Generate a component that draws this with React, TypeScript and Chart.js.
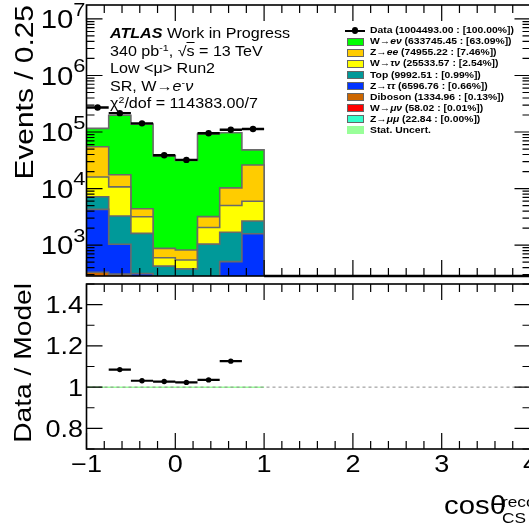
import React, { useEffect, useRef } from "react";
import { Chart, registerables } from "chart.js";
Chart.register(...registerables);

// ---------------- data ----------------
const binEdges = [-1, -0.75, -0.5, -0.25, 0, 0.25, 0.5, 0.75, 1];
const emptyRange = [1, 4]; // data bins without entries
const wenu = [61000, 181000, 133600, 37000, 30600, 89000, 86900, 22200];
const zee = [39000, 6900, 1210, 277, 271, 1150, 5270, 20100];
const wtaunu = [8850, 7430, 1565, 175, 167, 1000, 3320, 3320];
const topq = [2870, 2230, 1300, 375, 335, 935, 1180, 1070];
const ztautau = [3950, 730, 235, 25, 20, 40, 350, 1330];
const diboson = [310, 290, 70, 20, 20, 60, 150, 250];
const wmunu = [15, 12, 6, 3, 3, 5, 6, 8];
const zmumu = [6, 5, 2, 1, 1, 2, 3, 3];
const dataCounts = [271000, 215500, 142300, 38900, 32140, 95400, 109400, 113000];
const ratioValues = [2.34, 1.085, 1.031, 1.027, 1.023, 1.035, 1.126, 2.34];

const xTickValues = [-1, 0, 1, 2, 3, 4];
const xTickLabels = ["\u22121", "0", "1", "2", "3", "4"];
const yDecades = [3, 4, 5, 6, 7];
const ratioTickValues = [0.8, 1, 1.2, 1.4];
const ratioTickLabels = ["0.8", "1", "1.2", "1.4"];

const COL = {
  wenu: "#00ff00",
  zee: "#ffcc00",
  wtaunu: "#ffff00",
  top: "#009999",
  ztautau: "#0033ff",
  diboson: "#cc6600",
  wmunu: "#ff0000",
  zmumu: "#33ffcc",
  stat: "#99ff99",
};

const legendItems = [
  { color: "", pre: "Data (1004493.00 : [100.00%])", it: "", post: "" },
  { color: COL.wenu, pre: "W\u2192", it: "e\u03bd", post: " (633745.45 : [63.09%])" },
  { color: COL.zee, pre: "Z\u2192", it: "ee", post: " (74955.22 : [7.46%])" },
  { color: COL.wtaunu, pre: "W\u2192", it: "\u03c4\u03bd", post: " (25533.57 : [2.54%])" },
  { color: COL.top, pre: "Top (9992.51 : [0.99%])", it: "", post: "" },
  { color: COL.ztautau, pre: "Z\u2192", it: "\u03c4\u03c4", post: " (6596.76 : [0.66%])" },
  { color: COL.diboson, pre: "Diboson (1334.96 : [0.13%])", it: "", post: "" },
  { color: COL.wmunu, pre: "W\u2192", it: "\u03bc\u03bd", post: " (58.02 : [0.01%])" },
  { color: COL.zmumu, pre: "Z\u2192", it: "\u03bc\u03bc", post: " (22.84 : [0.00%])" },
  { color: COL.stat, pre: "Stat. Uncert.", it: "", post: "" },
];

// ---------------- layout ----------------
const FONT = '"Liberation Sans", Arial, Helvetica, sans-serif';
const SX = 1.15; // horizontal text stretch of the reference
const CANVAS_W = 560;
const TOP_H = 280;
const BOT_H = 248;
const PAD_LEFT = 86.5;
const PAD_RIGHT = CANVAS_W - 530.5;
const X_MIN = -1, X_MAX = 4;
const Y_MIN = 284, Y_MAX = 1.765e7;
const R_MIN = 0.7, R_MAX = 1.5;
const MAJ = 16, MINL = 8;
const OUTLINE = "#6a6a6a";

function stepPoints(values: number[]) {
  const pts: { x: number; y: number }[] = values.map((v, i) => ({ x: binEdges[i], y: v }));
  pts.push({ x: binEdges[values.length], y: values[values.length - 1] });
  pts.push({ x: binEdges[values.length], y: 1e-3 });
  return pts;
}

function errorSegments(vals: number[]) {
  const pts: { x: number; y: number | null }[] = [];
  vals.forEach((v, i) => {
    pts.push({ x: binEdges[i], y: v }, { x: binEdges[i + 1], y: v }, { x: binEdges[i + 1], y: null });
  });
  return pts;
}

function centers(vals: number[]) {
  return vals.map((v, i) => ({ x: (binEdges[i] + binEdges[i + 1]) / 2, y: v }));
}

function sText(ctx: CanvasRenderingContext2D, text: string, x: number, y: number, font: string, align: CanvasTextAlign) {
  ctx.save();
  ctx.font = font;
  ctx.textAlign = align;
  ctx.textBaseline = "alphabetic";
  ctx.fillStyle = "#000";
  ctx.translate(x, y);
  ctx.scale(SX, 1);
  ctx.fillText(text, 0, 0);
  ctx.restore();
}

function drawXTicks(ctx: CanvasRenderingContext2D, chart: any) {
  const a = chart.chartArea;
  const xs = chart.scales.x;
  for (let i = 0; i <= 25; i++) {
    const v = X_MIN + i * 0.2;
    const px = xs.getPixelForValue(v);
    const len = Math.abs(v - Math.round(v)) < 1e-6 ? MAJ : MINL;
    ctx.moveTo(px, a.bottom);
    ctx.lineTo(px, a.bottom - len);
    ctx.moveTo(px, a.top);
    ctx.lineTo(px, a.top + len);
  }
}

const topFramePlugin = {
  id: "topFrame",
  afterDraw(chart: any) {
    const { ctx, chartArea: a } = chart;
    const ys = chart.scales.y;
    ctx.save();
    ctx.strokeStyle = "#000";
    ctx.lineWidth = 1.2;
    ctx.beginPath();
    drawXTicks(ctx, chart);
    for (let d = 2; d <= 7; d++) {
      for (let m = 1; m <= 9; m++) {
        const v = m * Math.pow(10, d);
        if (v < ys.min || v > ys.max) continue;
        const py = ys.getPixelForValue(v);
        const len = m === 1 ? MAJ : MINL;
        ctx.moveTo(a.left, py);
        ctx.lineTo(a.left + len, py);
        ctx.moveTo(a.right, py);
        ctx.lineTo(a.right - len, py);
      }
    }
    ctx.stroke();
    ctx.lineWidth = 1.6;
    ctx.strokeRect(a.left, a.top, a.right - a.left, a.bottom - a.top);
    // decade labels 10^n
    const baseFont = `25.5px ${FONT}`;
    const supFont = `19px ${FONT}`;
    yDecades.forEach((d) => {
      const py = ys.getPixelForValue(Math.pow(10, d));
      const R = a.left - 1;
      ctx.font = supFont;
      const supW = ctx.measureText(String(d)).width * SX;
      sText(ctx, String(d), R - supW, py - 3.2, supFont, "left");
      sText(ctx, "10", R - supW, py + 9.1, baseFont, "right");
    });
    ctx.restore();
  },
};

const ratioFramePlugin = {
  id: "ratioFrame",
  afterDraw(chart: any) {
    const { ctx, chartArea: a } = chart;
    const ys = chart.scales.y;
    const xs = chart.scales.x;
    ctx.save();
    ctx.strokeStyle = "#000";
    ctx.lineWidth = 1.2;
    ctx.beginPath();
    drawXTicks(ctx, chart);
    for (let i = 0; i <= 8; i++) {
      const v = R_MIN + i * 0.1;
      const py = ys.getPixelForValue(v);
      const len = Math.abs(v * 5 - Math.round(v * 5)) < 1e-6 ? MAJ : MINL;
      ctx.moveTo(a.left, py);
      ctx.lineTo(a.left + len, py);
      ctx.moveTo(a.right, py);
      ctx.lineTo(a.right - len, py);
    }
    ctx.stroke();
    ctx.lineWidth = 1.6;
    ctx.strokeRect(a.left, a.top, a.right - a.left, a.bottom - a.top);
    const f = `23.5px ${FONT}`;
    ratioTickValues.forEach((v, i) => {
      sText(ctx, ratioTickLabels[i], a.left - 3.5, ys.getPixelForValue(v) + 8.4, f, "right");
    });
    xTickValues.forEach((v, i) => {
      sText(ctx, xTickLabels[i], xs.getPixelForValue(v), a.bottom + 23, f, "center");
    });
    ctx.restore();
  },
};

function topConfig(): any {
  const comps = [zmumu, wmunu, diboson, ztautau, topq, wtaunu, zee, wenu];
  const colors = [COL.zmumu, COL.wmunu, COL.diboson, COL.ztautau, COL.top, COL.wtaunu, COL.zee, COL.wenu];
  const levels: number[][] = [];
  let run = comps[0].map(() => 0);
  comps.forEach((c) => {
    run = run.map((v, i) => v + c[i]);
    levels.push(run);
  });
  const datasets: any[] = [];
  for (let k = levels.length - 1; k >= 0; k--) {
    datasets.push({
      data: stepPoints(levels[k]),
      stepped: "before",
      fill: "start",
      backgroundColor: colors[k],
      borderColor: OUTLINE,
      borderWidth: 1.6,
      pointRadius: 0,
      order: 10 + k,
      clip: 0,
    });
  }
  const err = errorSegments(dataCounts);
  err.push({ x: emptyRange[0], y: Y_MIN }, { x: emptyRange[1], y: Y_MIN });
  datasets.push({
    data: err,
    borderColor: "#000",
    borderWidth: 2.4,
    pointRadius: 0,
    spanGaps: false,
    order: 1,
    clip: 2,
  });
  datasets.push({
    data: centers(dataCounts),
    showLine: false,
    pointRadius: 3.2,
    pointBackgroundColor: "#000",
    pointBorderColor: "#000",
    pointBorderWidth: 0,
    order: 0,
    clip: 0,
  });
  return {
    type: "line",
    data: { datasets },
    options: {
      animation: false,
      responsive: false,
      devicePixelRatio: 1,
      events: [],
      layout: { padding: { left: PAD_LEFT, right: PAD_RIGHT, top: 5, bottom: TOP_H - 277 } },
      plugins: { legend: { display: false }, tooltip: { enabled: false } },
      scales: {
        x: { type: "linear", min: X_MIN, max: X_MAX, display: false },
        y: { type: "logarithmic", min: Y_MIN, max: Y_MAX, display: false },
      },
    },
    plugins: [topFramePlugin],
  };
}

function ratioConfig(): any {
  const datasets: any[] = [
    {
      data: [
        { x: binEdges[0], y: 1 },
        { x: binEdges[binEdges.length - 1], y: 1 },
      ],
      borderColor: COL.stat,
      borderWidth: 1.5,
      pointRadius: 0,
      order: 3,
      clip: 0,
    },
    {
      data: [
        { x: X_MIN, y: 1 },
        { x: X_MAX, y: 1 },
      ],
      borderColor: "#8c8c8c",
      borderWidth: 1,
      borderDash: [3, 3],
      pointRadius: 0,
      order: 2,
      clip: 0,
    },
    {
      data: errorSegments(ratioValues),
      borderColor: "#000",
      borderWidth: 2.2,
      pointRadius: 0,
      spanGaps: false,
      order: 1,
      clip: 0,
    },
    {
      data: centers(ratioValues),
      showLine: false,
      pointRadius: 2.7,
      pointBackgroundColor: "#000",
      pointBorderColor: "#000",
      pointBorderWidth: 0,
      order: 0,
      clip: 0,
    },
  ];
  return {
    type: "line",
    data: { datasets },
    options: {
      animation: false,
      responsive: false,
      devicePixelRatio: 1,
      events: [],
      layout: { padding: { left: PAD_LEFT, right: PAD_RIGHT, top: 2, bottom: BOT_H - 169 } },
      plugins: { legend: { display: false }, tooltip: { enabled: false } },
      scales: {
        x: { type: "linear", min: X_MIN, max: X_MAX, display: false },
        y: { type: "linear", min: R_MIN, max: R_MAX, display: false },
      },
    },
    plugins: [ratioFramePlugin],
  };
}

const supStyle: React.CSSProperties = { fontSize: "0.66em", verticalAlign: "0.5em", lineHeight: 0 };

function Txt(props: { x: number; y: number; size: number; children: any; style?: React.CSSProperties }) {
  const { x, y, size, children, style } = props;
  return (
    <div
      style={{
        position: "absolute",
        left: x,
        top: y - 0.8465 * size,
        fontSize: size,
        lineHeight: `${size}px`,
        whiteSpace: "nowrap",
        transform: `scaleX(${SX})`,
        transformOrigin: "0 0",
        color: "#000",
        ...style,
      }}
    >
      {children}
    </div>
  );
}

function VTitle(props: { left: number; endY: number; size: number; text: string }) {
  const W = 300;
  return (
    <div
      style={{
        position: "absolute",
        left: props.left,
        top: props.endY + W * SX,
        width: W,
        textAlign: "right",
        fontSize: props.size,
        lineHeight: `${props.size}px`,
        whiteSpace: "nowrap",
        transformOrigin: "0 0",
        transform: `rotate(-90deg) scaleX(${SX})`,
      }}
    >
      {props.text}
    </div>
  );
}

export default function App() {
  const topRef = useRef<HTMLCanvasElement>(null);
  const botRef = useRef<HTMLCanvasElement>(null);
  useEffect(() => {
    const c1 = new Chart(topRef.current as HTMLCanvasElement, topConfig());
    const c2 = new Chart(botRef.current as HTMLCanvasElement, ratioConfig());
    return () => {
      c1.destroy();
      c2.destroy();
    };
  }, []);

  const LEG_Y0 = 30.5;
  const LEG_DY = 11.1;
  const LEG_FS = 9;

  return (
    <div
      style={{
        position: "fixed",
        left: 0,
        top: 0,
        width: 529,
        height: 528,
        overflow: "hidden",
        background: "#fff",
        fontFamily: FONT,
      }}
    >
      <canvas ref={topRef} width={CANVAS_W} height={TOP_H} style={{ position: "absolute", left: 0, top: 0 }} />
      <canvas ref={botRef} width={CANVAS_W} height={BOT_H} style={{ position: "absolute", left: 0, top: TOP_H }} />

      {/* ATLAS label block */}
      <Txt x={110} y={38.3} size={14}>
        <b>
          <i>ATLAS</i>
        </b>{" "}
        Work in Progress
      </Txt>
      <Txt x={110} y={55.8} size={14}>
        340 pb<span style={supStyle}>-1</span>, {"\u221a"}
        <span style={{ textDecoration: "overline" }}>s</span> = 13 TeV
      </Txt>
      <Txt x={110} y={73.3} size={14}>
        {"Low <\u03bc> Run2"}
      </Txt>
      <Txt x={110} y={90.8} size={14}>
        SR, W{"\u2192"}
        <i>e</i>
        <span style={supStyle}>-</span>
        <i>{"\u03bd"}</i>
      </Txt>
      <Txt x={110} y={108.3} size={14}>
        {"\u03c7"}
        <span style={supStyle}>2</span>/dof = 114383.00/7
      </Txt>

      {/* legend */}
      {legendItems.map((it, i) => {
        const yc = LEG_Y0 + i * LEG_DY;
        return (
          <React.Fragment key={i}>
            {it.color ? (
              <div
                style={{
                  position: "absolute",
                  left: 347,
                  top: yc - 4,
                  width: 17,
                  height: 8,
                  boxSizing: "border-box",
                  background: it.color,
                  border: it.color === COL.stat ? "none" : "1px solid #666",
                }}
              />
            ) : (
              <>
                <div style={{ position: "absolute", left: 345, top: yc - 1, width: 20, height: 2, background: "#000" }} />
                <div
                  style={{
                    position: "absolute",
                    left: 352,
                    top: yc - 3.2,
                    width: 6.4,
                    height: 6.4,
                    borderRadius: "50%",
                    background: "#000",
                  }}
                />
              </>
            )}
            <Txt x={370} y={yc + 3.3} size={LEG_FS} style={{ fontWeight: "bold" }}>
              {it.pre}
              {it.it ? <i>{it.it}</i> : null}
              {it.post}
            </Txt>
          </React.Fragment>
        );
      })}

      {/* axis titles */}
      <VTitle left={11.3} endY={5} size={26} text="Events / 0.25" />
      <VTitle left={11.3} endY={283} size={24.5} text="Data / Model" />
      <Txt x={444} y={515} size={25.5}>
        cos{"\u03b8"}
      </Txt>
      <Txt x={502} y={507} size={15}>
        reco
      </Txt>
      <Txt x={502} y={523} size={15}>
        CS
      </Txt>
    </div>
  );
}
